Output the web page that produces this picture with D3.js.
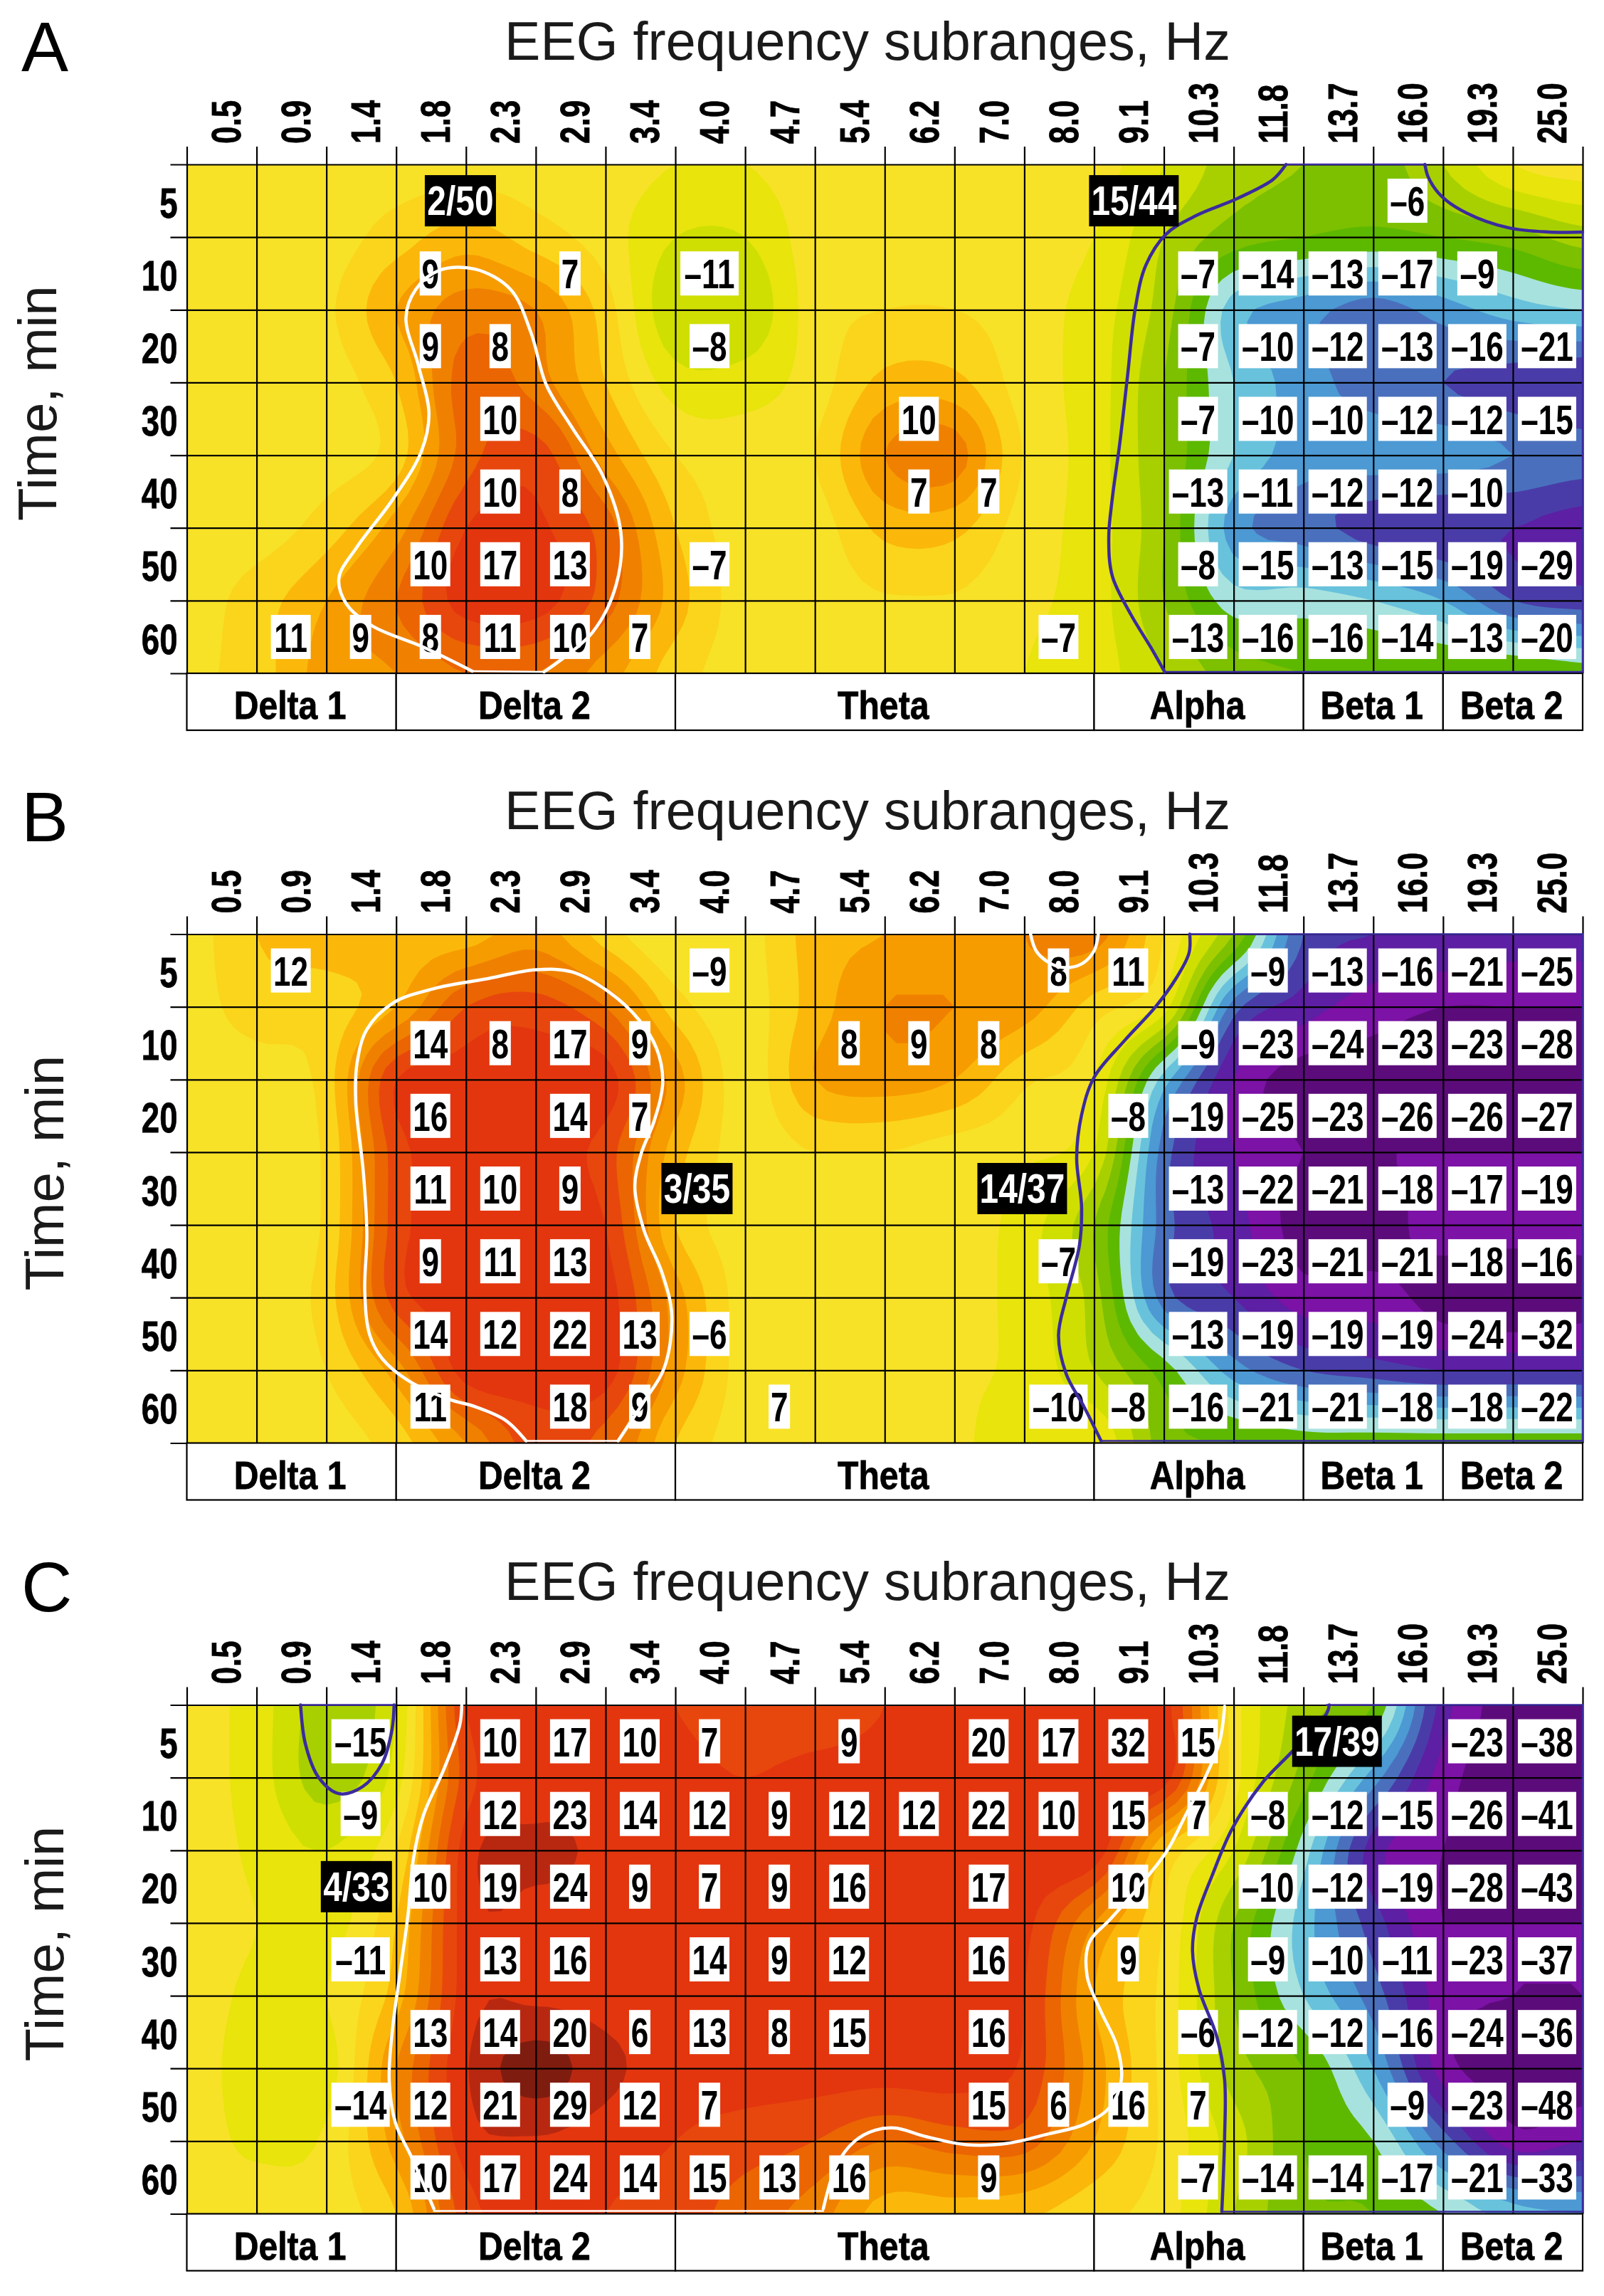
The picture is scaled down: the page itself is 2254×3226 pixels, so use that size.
<!DOCTYPE html>
<html>
<head>
<meta charset="utf-8">
<title>EEG frequency subranges</title>
<script src="https://cdn.jsdelivr.net/npm/d3@7"></script>
<style>
	html, body { margin: 0; padding: 0; background: #fff; }
	text { font-family: "Liberation Sans", Arial, sans-serif; }
</style>
</head>
<body>
<div id="chart"></div>
<script>
const _ = null;

const freqLabels = ["0.5", "0.9", "1.4", "1.8", "2.3", "2.9", "3.4", "4.0", "4.7", "5.4",
					"6.2", "7.0", "8.0", "9.1", "10.3", "11.8", "13.7", "16.0", "19.3", "25.0"];
const timeLabels = ["5", "10", "20", "30", "40", "50", "60"];

// frequency bands: name, first column, column after the last
const bandNames = ["Delta 1", "Delta 2", "Theta", "Alpha", "Beta 1", "Beta 2"];
const bandEdges = [0, 3, 7, 13, 16, 18, 20];

// colour levels of the map (level 0 is the yellow)
const levelValues = d3.range(-14, 10);
const levelColors = ["#3c0a50", "#5c0c7a", "#7c12a6", "#5d1fa4", "#4a3ca8", "#4a70bd", "#4c99d3",
					 "#68c2dc", "#a8e2de", "#5db800", "#7cc000", "#a8d000", "#cfdf02", "#e8e40c",
					 "#f7e228", "#fad51c", "#fbb80a", "#f69c00", "#f08100", "#eb6503", "#e7470d",
					 "#e3360f", "#b82810", "#7f1c10"];

// printed values, rows are times and columns are frequencies
const labelsA = [
	[_,_,_,_,_,_,_,_,_,_,_,_,_,_,_,_,_,-6,_,_],
	[_,_,_,9,_,7,_,-11,_,_,_,_,_,_,-7,-14,-13,-17,-9,_],
	[_,_,_,9,8,_,_,-8,_,_,_,_,_,_,-7,-10,-12,-13,-16,-21],
	[_,_,_,_,10,_,_,_,_,_,10,_,_,_,-7,-10,-10,-12,-12,-15],
	[_,_,_,_,10,8,_,_,_,_,7,7,_,_,-13,-11,-12,-12,-10,_],
	[_,_,_,10,17,13,_,-7,_,_,_,_,_,_,-8,-15,-13,-15,-19,-29],
	[_,11,9,8,11,10,7,_,_,_,_,_,-7,_,-13,-16,-16,-14,-13,-20]
];
const labelsB = [
	[_,12,_,_,_,_,_,-9,_,_,_,_,8,11,_,-9,-13,-16,-21,-25],
	[_,_,_,14,8,17,9,_,_,8,9,8,_,_,-9,-23,-24,-23,-23,-28],
	[_,_,_,16,_,14,7,_,_,_,_,_,_,-8,-19,-25,-23,-26,-26,-27],
	[_,_,_,11,10,9,_,_,_,_,_,_,_,_,-13,-22,-21,-18,-17,-19],
	[_,_,_,9,11,13,_,_,_,_,_,_,-7,_,-19,-23,-21,-21,-18,-16],
	[_,_,_,14,12,22,13,-6,_,_,_,_,_,_,-13,-19,-19,-19,-24,-32],
	[_,_,_,11,_,18,9,_,7,_,_,_,-10,-8,-16,-21,-21,-18,-18,-22]
];
const labelsC = [
	[_,_,-15,_,10,17,10,7,_,9,_,20,17,32,15,_,_,_,-23,-38],
	[_,_,-9,_,12,23,14,12,9,12,12,22,10,15,7,-8,-12,-15,-26,-41],
	[_,_,_,10,19,24,9,7,9,16,_,17,_,10,_,-10,-12,-19,-28,-43],
	[_,_,-11,_,13,16,_,14,9,12,_,16,_,9,_,-9,-10,-11,-23,-37],
	[_,_,_,13,14,20,6,13,8,15,_,16,_,_,-6,-12,-12,-16,-24,-36],
	[_,_,-14,12,21,29,12,7,_,_,_,15,6,16,7,_,_,-9,-23,-48],
	[_,_,_,10,17,24,14,15,13,16,_,9,_,_,-7,-14,-14,-17,-21,-33]
];

// colour level at every crossing of the grid (8 lines by 21 lines)
const fieldA = [
	[0,0,0,0,0,0,0,-0.5,-0.5,0,0,0,0,0,-1.5,-3,-3.5,-4,-2.5,-0.5,0],
	[0,0,0,1,2,1,0,-1.5,-1.5,0,0,0,0,-0.5,-2.5,-4,-4.5,-4.8,-4.5,-4,-3],
	[0,0,0.3,2.5,4,3.5,1,-2.4,-2.4,0,0.5,0.5,0,-1,-3,-7,-8,-9,-8,-7,-6.5],
	[0,0,0,1.5,5,4,1.5,-1,-1,0,1.8,1.8,0,-1,-3.5,-6.5,-8,-9,-9.5,-10,-10.5],
	[0,0,0,1,5,6,3,0.5,0,0.5,3.5,4,0.4,-1,-3.5,-6.5,-8,-8,-8,-8.5,-9],
	[0,0,1,3,6.5,6.7,5,1.5,0,0,1.8,1.8,0,-1,-3.5,-8,-9,-10,-10.5,-10.5,-11],
	[0,1,2.5,4.5,7,7,5,2,0,0,0.4,0.4,-0.3,-1,-3.5,-6,-6,-6.5,-7.5,-9.5,-10],
	[0.3,1,3,3.5,4.5,4.5,3,1,0,0,0,0,-0.5,-1,-2.5,-4,-4.5,-4.5,-4.5,-4.5,-5]
];
const fieldB = [
	[0,1.5,2,2,2,3,1,-0.5,0,2,2.5,3,3.5,4,0.5,-3.5,-9.5,-10.5,-10.5,-11,-11],
	[0,1,1,2.5,5.5,6,4.5,1,0,2,3.5,3.5,3,1,-1,-9,-11,-12,-12.5,-12.5,-12.5],
	[0,0,1,6.5,7,7,7,3,0,2.5,3,2.5,0.7,-0.5,-7,-11.5,-13,-13,-13,-13,-13],
	[0,0,0.7,6,7,7,6,2,0,0.5,0.5,0,-0.3,-1.5,-9,-11.5,-12.5,-12.5,-12.5,-12.5,-12.5],
	[0,0,0.7,6,7,7,6.5,1.5,0,0,0,0,-1,-3.5,-9,-11,-13,-13,-12,-12,-12],
	[0,0,1,6,7,7,7,3,0,0,0,0,-1,-3,-9,-10.5,-12,-12,-13,-13.5,-13],
	[0,0,0.5,3,7,7,7,3,0,0,0,-0.3,-0.8,-2.5,-5,-8,-9.5,-10,-10.5,-10.5,-10.5],
	[0,0,0,1,3.5,6,5,1.5,0,0,0,-0.3,-1,-0.5,-4,-4.5,-5,-5,-5,-5,-5]
];
const fieldC = [
	[0,-1,-3,-1.5,6.5,7,7,6.5,5.5,5.5,6.5,7,7,7,7,0,-3,-4.5,-11,-13,-13],
	[0,-1,-3,-1,6,7,7,7,6.5,7,7,7,7.3,7.3,7,0,-4,-8,-12,-13,-13],
	[0,-0.7,-1.5,0.5,7,7.7,7.3,7,7,7,7,7,7.2,7.2,1.5,-1.5,-6,-11,-12.5,-13,-13],
	[0,-0.5,-1,1.5,7,7.2,7,7,7,7,7,7,6.8,3.5,0.5,-3.5,-7,-10,-12.5,-12.5,-12.5],
	[0,-0.7,-0.5,2,7,7.3,7.1,7,7,7,7,7,6.5,2.5,0.2,-3.5,-6.5,-9,-12,-12.5,-12.5],
	[0,-1,-1,3.5,7.4,9,7.8,7,7,7,7,7,6.3,3,0.2,-3,-4.5,-7.5,-12,-13,-13],
	[0,-0.7,-0.3,3,7,7.4,7,6.5,6,5.5,4.5,5,5,2.5,0.3,-2,-4.5,-5.5,-9,-12,-11.5],
	[0,0,0,1.5,6,7,6.5,6,5,4,2,2,1.7,0.8,0,-2.5,-4.3,-4.5,-5.5,-7,-7.5]
];

// significance outlines as [column, row] in grid units
const whiteCurvesA = [
	[[4.09,6.97],[3.39,6.64],[2.66,6.35],[2.29,6.05],[2.18,5.69],[2.44,5.26],[2.95,4.61],[3.36,3.95],[3.47,3.43],[3.32,2.77],[3.14,2.11],[3.28,1.72],[3.61,1.46],[4.13,1.44],[4.64,1.72],[4.93,2.31],[5.15,3.03],[5.52,3.62],[5.96,4.28],[6.22,5.07],[6.15,5.79],[5.81,6.44],[5.12,6.98]]
];
const whiteEdgesA = [[[4.09,6.97],[5.12,6.98]]];
const blueCurvesA = [
	[[15.75,0],[15.56,0.21],[15.05,0.47],[14.47,0.7],[14.03,0.96],[13.74,1.39],[13.59,1.98],[13.48,2.9],[13.37,3.82],[13.26,4.6],[13.21,5.13],[13.26,5.66],[13.52,6.18],[13.81,6.64],[14.01,6.98]],
	[[20,0.93],[19.51,0.93],[18.93,0.87],[18.34,0.67],[17.98,0.44],[17.79,0.18],[17.74,0]]
];
const blueEdgesA = [[[14.01,6.98],[20,6.98],[20,0.93]], [[15.75,0],[17.74,0]]];

const whiteCurvesB = [
	[[4.86,6.97],[4.57,6.69],[4.13,6.5],[3.76,6.4],[3.17,6.14],[2.8,5.84],[2.62,5.51],[2.55,4.92],[2.58,4.13],[2.53,3.28],[2.42,2.3],[2.44,1.77],[2.58,1.31],[2.95,0.95],[3.54,0.75],[4.27,0.62],[5.01,0.49],[5.52,0.52],[6.04,0.79],[6.48,1.18],[6.73,1.57],[6.82,2.03],[6.7,2.56],[6.51,3.02],[6.42,3.48],[6.55,4.07],[6.81,4.66],[6.95,5.25],[6.84,5.97],[6.55,6.43],[6.18,6.97]],
	[[12.09,0],[12.17,0.23],[12.35,0.39],[12.57,0.46],[12.82,0.41],[13,0.23],[13.06,0]]
];
const whiteEdgesB = [[[4.86,6.97],[6.18,6.97]]];
const blueCurvesB = [
	[[14.37,0],[14.36,0.26],[14.18,0.6],[13.88,1],[13.44,1.46],[13,1.97],[12.82,2.49],[12.75,3.08],[12.82,3.74],[12.79,4.28],[12.6,5],[12.49,5.52],[12.6,6.05],[12.86,6.51],[13.1,6.97]]
];
const blueEdgesB = [[[13.1,6.97],[20,6.97],[20,0],[14.37,0]]];

const whiteCurvesC = [
	[[3.94,0],[3.91,0.28],[3.69,0.87],[3.39,1.52],[3.25,2.1],[3.17,2.88],[3.06,3.66],[2.95,4.44],[2.9,5.16],[2.99,5.75],[3.21,6.2],[3.39,6.59],[3.54,6.93]],
	[[9.12,6.93],[9.31,6.33],[9.57,6],[9.86,5.85],[10.15,5.82],[10.6,5.94],[11.18,6.05],[11.76,6.03],[12.35,5.9],[12.86,5.77],[13.22,5.54],[13.39,5.16],[13.33,4.7],[13.08,4.18],[12.9,3.73],[12.93,3.27],[13.23,2.95],[13.59,2.56],[14.03,2.03],[14.32,1.5],[14.61,0.96],[14.8,0.5],[14.87,0.02]]
];
const whiteEdgesC = [[[3.54,6.96],[9.12,6.96]]];
const blueCurvesC = [
	[[1.63,0],[1.7,0.54],[1.89,1],[2.18,1.22],[2.51,1.13],[2.8,0.8],[2.94,0.34],[2.97,0]],
	[[16.37,0],[16.33,0.12],[15.84,0.64],[15.42,1.06],[14.98,1.7],[14.69,2.35],[14.47,2.93],[14.41,3.38],[14.5,3.9],[14.76,4.57],[14.87,5.16],[14.87,5.94],[14.83,6.97]]
];
const blueEdgesC = [[[1.63,0],[2.97,0]], [[14.83,6.97],[20,6.97],[20,0],[16.33,0]]];

// black count boxes: text, column centre, row
const countsA = [["2/50", 3.92, 0], ["15/44", 13.57, 0]];
const countsB = [["3/35", 7.31, 3], ["14/37", 11.97, 3]];
const countsC = [["4/33", 2.43, 2], ["17/39", 16.48, 0]];

const panels = [
	{ letter: "A", top: 231, letterY: 100, titleY: 84, yTitleX: 79, labels: labelsA, field: fieldA, whiteCurves: whiteCurvesA, whiteEdges: whiteEdgesA, blueCurves: blueCurvesA, blueEdges: blueEdgesA, counts: countsA },
	{ letter: "B", top: 1312.5, letterY: 1182, titleY: 1165, yTitleX: 89, labels: labelsB, field: fieldB, whiteCurves: whiteCurvesB, whiteEdges: whiteEdgesB, blueCurves: blueCurvesB, blueEdges: blueEdgesB, counts: countsB },
	{ letter: "C", top: 2395.5, letterY: 2264, titleY: 2248, yTitleX: 89, labels: labelsC, field: fieldC, whiteCurves: whiteCurvesC, whiteEdges: whiteEdgesC, blueCurves: blueCurvesC, blueEdges: blueEdgesC, counts: countsC }
];

const width = 2254;
const height = 3226;
const plotLeft = 262.5;
const plotRight = 2224;
const plotHeight = 715;
const bandHeight = 80;
const upsample = 6;

const svg = d3.select("#chart").append("svg")
	.attr("width", width)
	.attr("height", height)
	.style("display", "block");

const levelScale = d3.scaleThreshold()
	.domain(levelValues.slice(1).map(d => d - 0.5))
	.range(levelColors);

const x = d3.scaleLinear().domain([0, 20]).range([plotLeft, plotRight]);
const xBand = d3.scaleBand().domain(freqLabels).range([plotLeft, plotRight]);

function catmull(p0, p1, p2, p3, t) {
	return 0.5 * (2 * p1 + (p2 - p0) * t + (2 * p0 - 5 * p1 + 4 * p2 - p3) * t * t + (3 * p1 - p0 - 3 * p2 + p3) * t * t * t);
}

// smooth the crossing values so the contour bands come out round
function smoothField(field) {
	const rows = field.length, cols = field[0].length;
	const w = (cols - 1) * upsample + 1, h = (rows - 1) * upsample + 1;
	const out = new Array(w * h);
	const at = (r, c) => field[Math.max(0, Math.min(rows - 1, r))][Math.max(0, Math.min(cols - 1, c))];
	for (var j = 0; j < h; ++j) {
		const r = Math.min(rows - 2, Math.floor(j / upsample)), v = j / upsample - r;
		for (var i = 0; i < w; ++i) {
			const c = Math.min(cols - 2, Math.floor(i / upsample)), u = i / upsample - c;
			const column = [-1, 0, 1, 2].map(dr => catmull(at(r + dr, c - 1), at(r + dr, c), at(r + dr, c + 1), at(r + dr, c + 2), u));
			const value = catmull(column[0], column[1], column[2], column[3], v);
			const corners = [at(r, c), at(r, c + 1), at(r + 1, c), at(r + 1, c + 1)];
			out[j * w + i] = Math.max(d3.min(corners), Math.min(d3.max(corners), value));
		}
	}
	return { values: out, w: w, h: h };
}

panels.forEach(function(panel, index) {
	const y = d3.scaleLinear().domain([0, 7]).range([panel.top, panel.top + plotHeight]);
	const yBand = d3.scaleBand().domain(timeLabels).range([panel.top, panel.top + plotHeight]);
	const g = svg.append("g");

	g.append("text")
		.attr("x", 30)
		.attr("y", panel.letterY)
		.style("font-size", "99px")
		.text(panel.letter);

	g.append("text")
		.attr("x", 1219)
		.attr("y", panel.titleY)
		.attr("text-anchor", "middle")
		.style("font-size", "75.5px")
		.attr("fill", "#1a1a1a")
		.text("EEG frequency subranges, Hz");

	g.append("text")
		.attr("transform", `translate(${panel.yTitleX},${panel.top + plotHeight / 2 - 22}) rotate(-90)`)
		.attr("text-anchor", "middle")
		.style("font-size", "76px")
		.attr("fill", "#1a1a1a")
		.text("Time, min");

	// filled contour map
	const clipId = "plot-clip-" + index;
	g.append("clipPath").attr("id", clipId).append("rect")
		.attr("x", plotLeft)
		.attr("y", panel.top)
		.attr("width", plotRight - plotLeft)
		.attr("height", plotHeight);

	const grid = smoothField(panel.field);
	const contours = d3.contours()
		.size([grid.w, grid.h])
		.thresholds(levelValues.slice(1).map(d => d - 0.5))(grid.values);

	const projection = d3.geoTransform({
		point: function(u, v) {
			this.stream.point(x((u - 0.5) / upsample), y((v - 0.5) / upsample));
		}
	});
	const contourPath = d3.geoPath(projection);

	const map = g.append("g").attr("clip-path", `url(#${clipId})`);
	map.append("rect")
		.attr("x", plotLeft)
		.attr("y", panel.top)
		.attr("width", plotRight - plotLeft)
		.attr("height", plotHeight)
		.attr("fill", levelColors[0]);
	map.selectAll("path")
		.data(contours)
		.join("path")
		.attr("d", contourPath)
		.attr("fill", d => levelScale(d.value));

	// grid lines, sticking out a little over the top and to the left
	const gridX = g.append("g")
		.attr("transform", `translate(0,${panel.top})`)
		.call(d3.axisTop(x).tickValues(d3.range(21)).tickFormat(""));
	gridX.select(".domain").remove();
	gridX.selectAll("line")
		.attr("y1", plotHeight)
		.attr("y2", -25)
		.attr("stroke", "#000")
		.attr("stroke-width", 2.2);

	const gridY = g.append("g")
		.attr("transform", `translate(${plotLeft},0)`)
		.call(d3.axisLeft(y).tickValues(d3.range(8)).tickFormat(""));
	gridY.select(".domain").remove();
	gridY.selectAll("line")
		.attr("x1", plotRight - plotLeft)
		.attr("x2", -23)
		.attr("stroke", "#000")
		.attr("stroke-width", 2.2);

	// tick labels
	const xLabels = g.append("g")
		.attr("transform", `translate(0,${panel.top})`)
		.call(d3.axisTop(xBand).tickSize(0));
	xLabels.select(".domain").remove();
	xLabels.selectAll("text")
		.attr("x", 0)
		.attr("y", 0)
		.attr("dy", "0.36em")
		.attr("text-anchor", "start")
		.attr("transform", "translate(5.5,-29) rotate(-90) scale(0.76,1)")
		.attr("fill", "#000")
		.attr("stroke", "#000")
		.attr("stroke-width", 0.8)
		.style("font-size", "58px")
		.style("font-weight", "bold")
		.style("font-family", "'Liberation Sans'");

	const yLabels = g.append("g")
		.attr("transform", `translate(${plotLeft},0)`)
		.call(d3.axisLeft(yBand).tickSize(0));
	yLabels.select(".domain").remove();
	yLabels.selectAll("text")
		.attr("x", 0)
		.attr("dy", "0.36em")
		.attr("text-anchor", "end")
		.attr("transform", "translate(-13,2) scale(0.76,1)")
		.attr("fill", "#000")
		.attr("stroke", "#000")
		.attr("stroke-width", 0.8)
		.style("font-size", "60px")
		.style("font-weight", "bold")
		.style("font-family", "'Liberation Sans'");

	// band names under the map
	const bands = g.append("g").selectAll("g")
		.data(bandNames)
		.join("g");
	bands.append("rect")
		.attr("x", (d, i) => x(bandEdges[i]))
		.attr("y", panel.top + plotHeight)
		.attr("width", (d, i) => x(bandEdges[i + 1]) - x(bandEdges[i]))
		.attr("height", bandHeight)
		.attr("fill", "#fff")
		.attr("stroke", "#000")
		.attr("stroke-width", 2.2);
	bands.append("text")
		.attr("transform", (d, i) => `translate(${x((bandEdges[i] + bandEdges[i + 1]) / 2) - 2},${panel.top + plotHeight + 64}) scale(0.86,1)`)
		.attr("text-anchor", "middle")
		.attr("stroke", "#000")
		.attr("stroke-width", 0.8)
		.style("font-size", "56px")
		.style("font-weight", "bold")
		.text(d => d);

	// printed values on white boxes
	const cells = [];
	panel.labels.forEach((row, r) => row.forEach((value, c) => {
		if (value !== null)
			cells.push({ text: String(value).replace("-", "\u2013"), column: c, row: r });
	}));
	const boxWidth = [0, 30, 56, 82];
	const cell = g.append("g").selectAll("g")
		.data(cells)
		.join("g")
		.attr("transform", d => `translate(${x(d.column + 0.5) - 1},${y(d.row + 0.5)})`);
	cell.append("rect")
		.attr("x", d => -boxWidth[d.text.length] / 2)
		.attr("y", -31)
		.attr("width", d => boxWidth[d.text.length])
		.attr("height", 62)
		.attr("fill", "#fff");
	cell.append("text")
		.attr("transform", "translate(0,21) scale(0.76,1)")
		.attr("text-anchor", "middle")
		.style("font-size", "58px")
		.style("font-weight", "bold")
		.text(d => d.text);

	// significance outlines go over the values, thinner where they run along the frame
	const curve = d3.line().x(d => x(d[0])).y(d => y(d[1])).curve(d3.curveCatmullRom.alpha(0.5));
	const edge = d3.line().x(d => x(d[0])).y(d => y(d[1]));
	const outlines = g.append("g").attr("fill", "none").attr("stroke-linecap", "round");
	outlines.selectAll(".white-curve").data(panel.whiteCurves).join("path").attr("class", "white-curve")
		.attr("d", curve).attr("stroke", "#fff").attr("stroke-width", 4.5);
	outlines.selectAll(".white-edge").data(panel.whiteEdges).join("path").attr("class", "white-edge")
		.attr("d", edge).attr("stroke", "#fff").attr("stroke-width", 2.5);
	outlines.selectAll(".blue-curve").data(panel.blueCurves).join("path").attr("class", "blue-curve")
		.attr("d", curve).attr("stroke", "#3b2b9e").attr("stroke-width", 4.5);
	outlines.selectAll(".blue-edge").data(panel.blueEdges).join("path").attr("class", "blue-edge")
		.attr("d", edge).attr("stroke", "#3b2b9e").attr("stroke-width", 2.5);

	// black count boxes sit on top of everything
	const count = g.append("g").selectAll("g")
		.data(panel.counts)
		.join("g")
		.attr("transform", d => `translate(${x(d[1])},${y(d[2] + 0.5)})`);
	count.append("rect")
		.attr("x", d => d[0].length > 4 ? -63 : -50)
		.attr("y", -36)
		.attr("width", d => d[0].length > 4 ? 126 : 100)
		.attr("height", 72)
		.attr("fill", "#000");
	count.append("text")
		.attr("transform", "translate(0,20) scale(0.84,1)")
		.attr("text-anchor", "middle")
		.attr("fill", "#fff")
		.style("font-size", "57px")
		.style("font-weight", "bold")
		.text(d => d[0]);
});
</script>
</body>
</html>
